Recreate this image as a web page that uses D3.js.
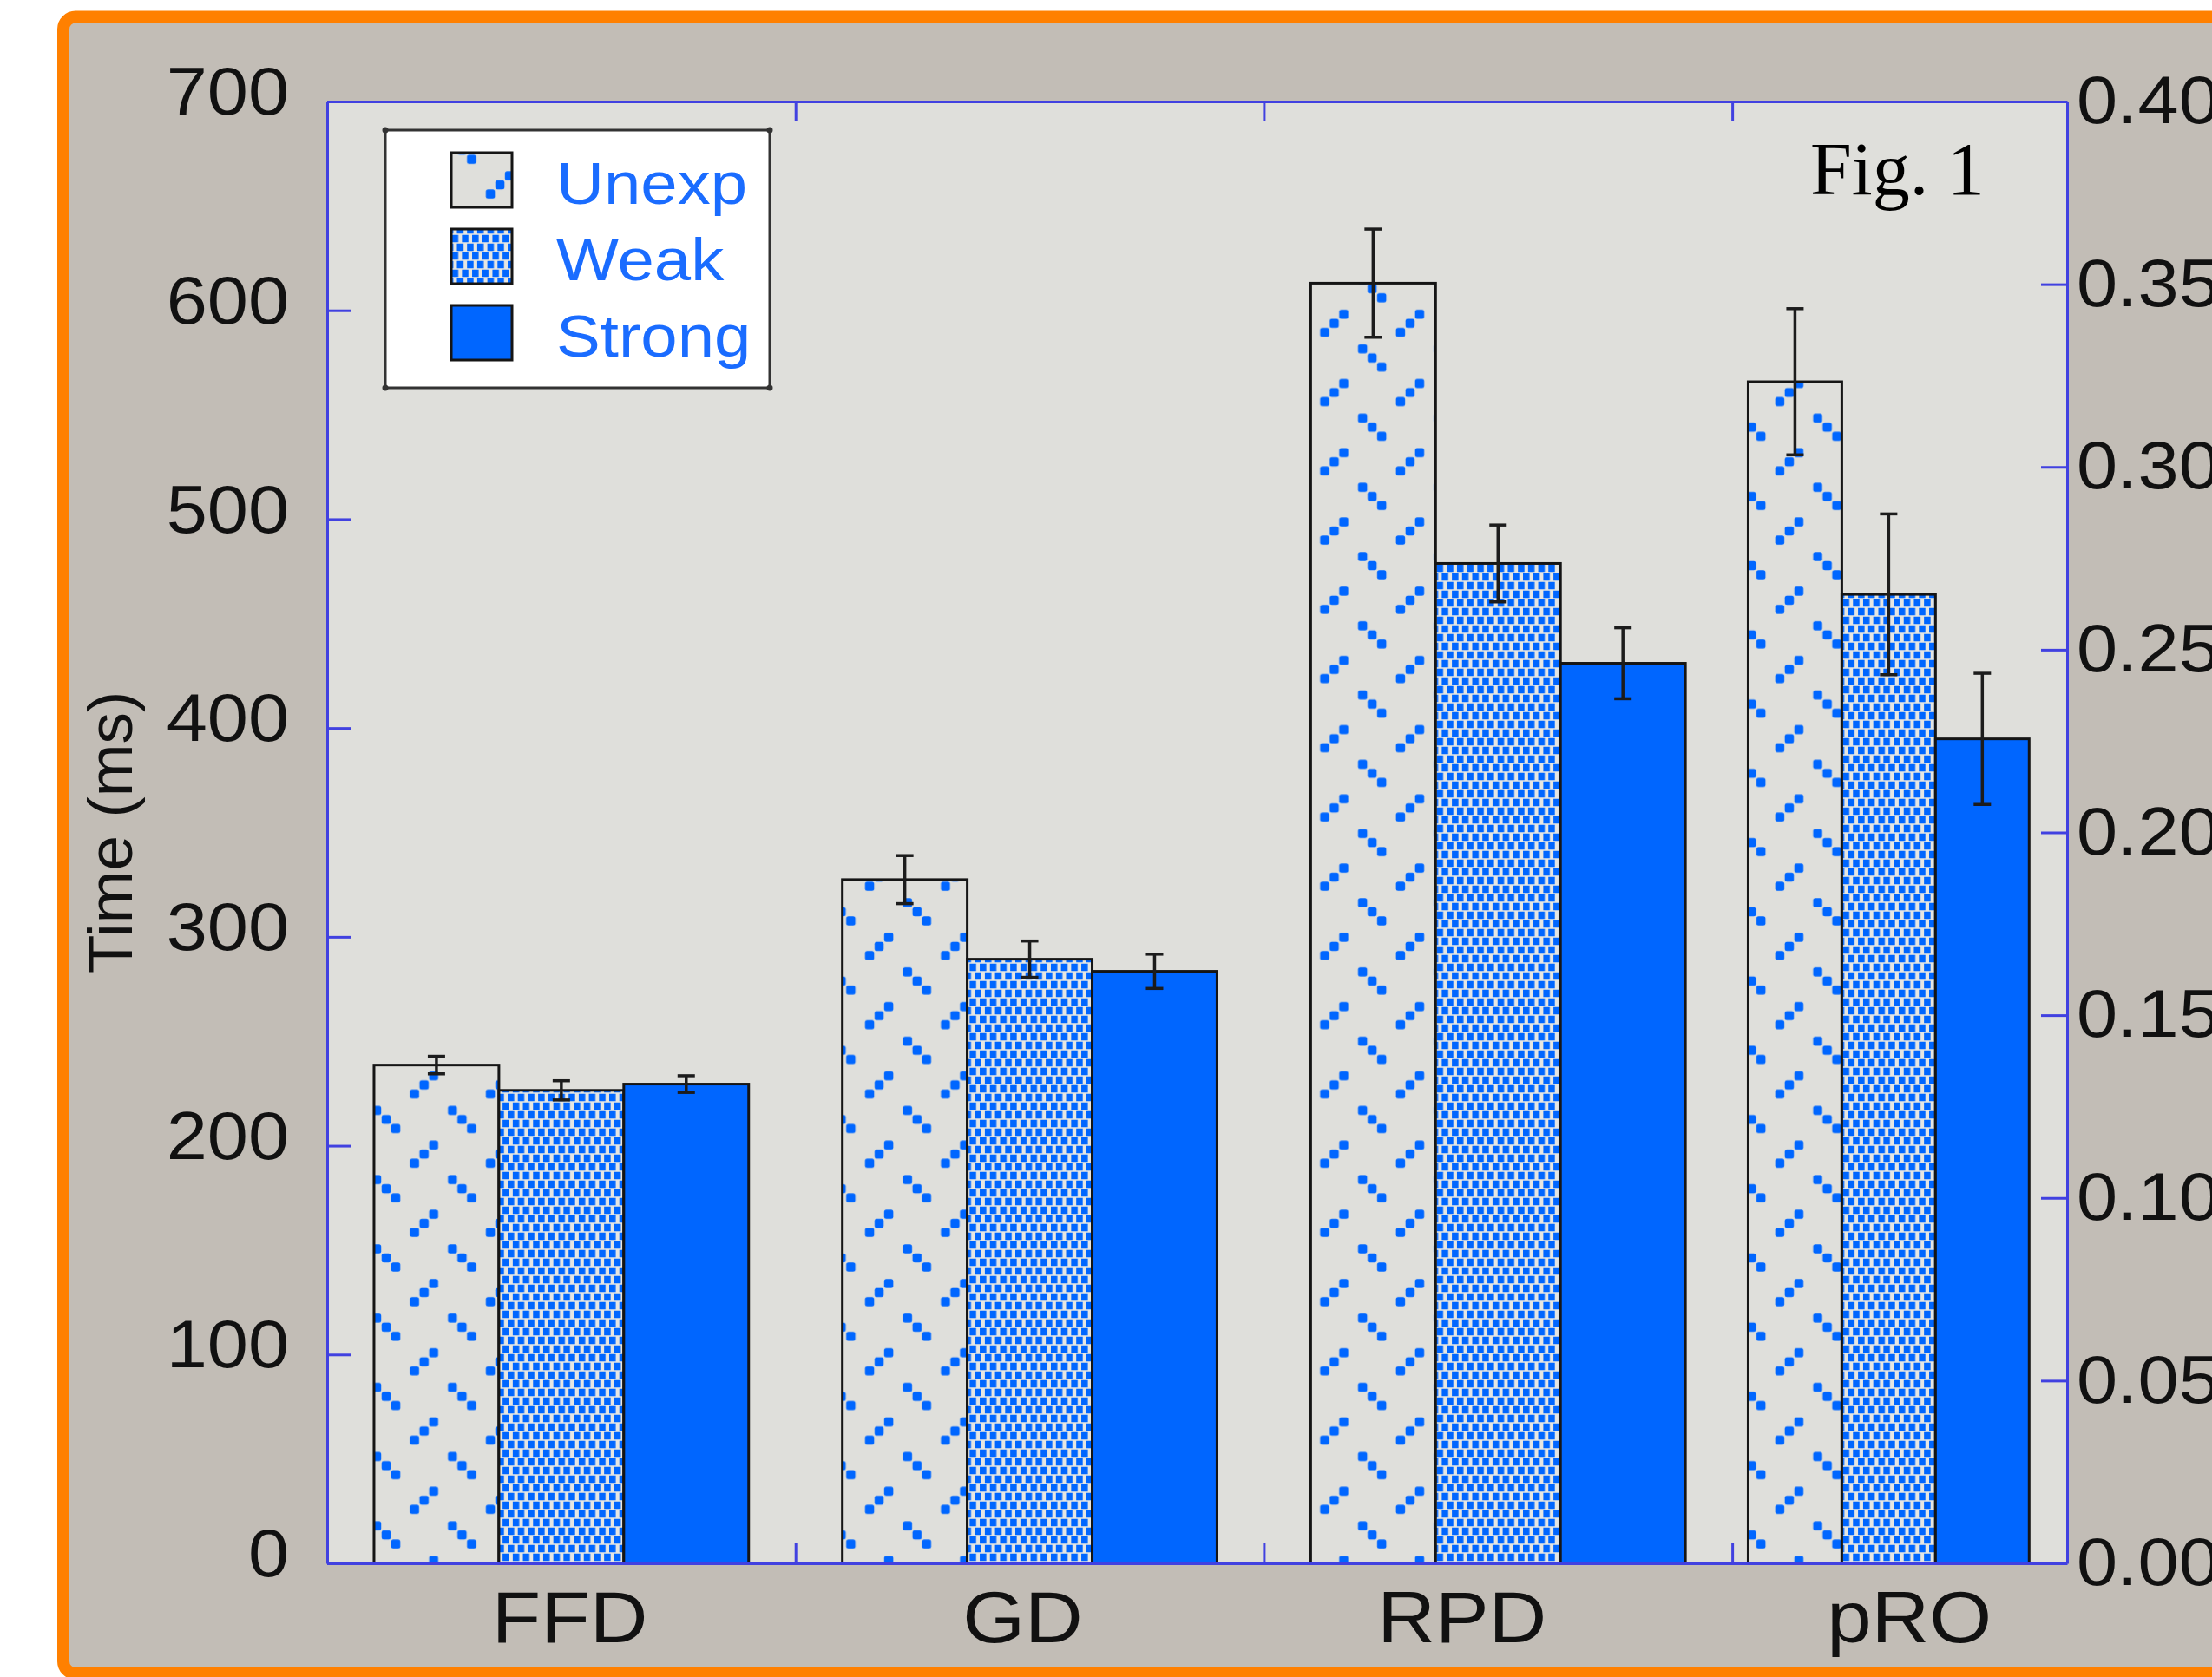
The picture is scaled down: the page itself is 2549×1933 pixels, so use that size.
<!DOCTYPE html>
<html>
<head>
<meta charset="utf-8">
<script src="https://cdn.jsdelivr.net/npm/d3@7"></script>
<style>
  body { margin: 0; background: #ffffff; }
  svg { display: block; }
</style>
</head>
<body>
<div id="chart"></div>
<script>
// data (Time in ms, mean and error)
const categories = ["FFD", "GD", "RPD", "pRO"];
const seriesNames = ["Unexp", "Weak", "Strong"];
const unexpMean = [238.6, 327.4, 613.0, 565.8];
const unexpErr = [4.2, 11.5, 25.9, 35.0];
const weakMean = [226.5, 289.3, 478.8, 464.0];
const weakErr = [4.6, 8.7, 18.4, 38.5];
const strongMean = [229.5, 283.5, 431.0, 394.8];
const strongErr = [4.0, 8.2, 17.0, 31.4];
const leftTicks = [0, 100, 200, 300, 400, 500, 600, 700];
const rightTicks = [0, 0.05, 0.10, 0.15, 0.20, 0.25, 0.30, 0.35, 0.40];
const groupBounds = [1.5, 2.5, 3.5];

// layout (x in axis units)
const groupCenter = [1, 2, 3, 3.834];
const groupWidth = [0.8, 0.8, 0.8, 0.6];
const labelPos = [1.018, 1.985, 2.923, 3.878];

const W = 2549, H = 1933;
const plot = { left: 377, right: 2382, top: 117, bottom: 1802 };
const axisBlue = "#4141e0";
const barBlue = "#0066ff";
const plotBg = "#dfdfdb";
const sx = 1.1; // text in the figure is a bit wider than the font

const svg = d3.select("#chart").append("svg")
  .attr("width", W)
  .attr("height", H);

const defs = svg.append("defs");

// Unexp pattern: "/" and "\" dotted dashes on grey
const pw = 87.4, ph = 79.8, dot = 10.5;
const pat1 = defs.append("pattern")
  .attr("id", "patUnexp")
  .attr("patternUnits", "userSpaceOnUse")
  .attr("x", 466.85).attr("y", 1230.55)
  .attr("width", pw).attr("height", ph);
pat1.append("rect").attr("width", pw).attr("height", ph).attr("fill", plotBg);
[-1, 0, 1].forEach(function (d) {
  pat1.append("rect")
    .attr("x", pw / 4 + d * 11 - dot / 2).attr("y", ph / 4 - d * 10.5 - dot / 2)
    .attr("width", dot).attr("height", dot).attr("rx", 2.5)
    .attr("fill", barBlue);
  pat1.append("rect")
    .attr("x", 3 * pw / 4 + d * 11 - dot / 2).attr("y", 3 * ph / 4 + d * 10.5 - dot / 2)
    .attr("width", dot).attr("height", dot).attr("rx", 2.5)
    .attr("fill", barBlue);
});

// Weak pattern: staggered checker
const cw = 11.7, ch = 20;
const pat2 = defs.append("pattern")
  .attr("id", "patWeak")
  .attr("patternUnits", "userSpaceOnUse")
  .attr("width", cw).attr("height", ch);
pat2.append("rect").attr("width", cw).attr("height", ch).attr("fill", "#e6e6e2");
pat2.append("rect").attr("x", 0).attr("y", 0.75).attr("width", 7.5).attr("height", 8.5).attr("fill", barBlue);
pat2.append("rect").attr("x", cw / 2).attr("y", 10.75).attr("width", 7.5).attr("height", 8.5).attr("fill", barBlue);
pat2.append("rect").attr("x", -cw / 2).attr("y", 10.75).attr("width", 7.5).attr("height", 8.5).attr("fill", barBlue);

const fills = ["url(#patUnexp)", "url(#patWeak)", barBlue];

// page frame
svg.append("rect")
  .attr("x", 73).attr("y", 19.5)
  .attr("width", 2600).attr("height", 1909.5)
  .attr("rx", 14)
  .attr("fill", "#c2bdb6")
  .attr("stroke", "#ff8000")
  .attr("stroke-width", 14);

// scales
const x = d3.scaleLinear().domain([0.5, 4.215]).range([plot.left, plot.right]);
const y = d3.scaleLinear().domain([0, 700]).range([plot.bottom, plot.top]);
const y2 = d3.scaleLinear().domain([0, 0.40]).range([plot.bottom, plot.top]);

svg.append("rect")
  .attr("x", plot.left).attr("y", plot.top)
  .attr("width", plot.right - plot.left).attr("height", plot.bottom - plot.top)
  .attr("fill", plotBg);

// bars
const means = [unexpMean, weakMean, strongMean];
const errs = [unexpErr, weakErr, strongErr];
const bars = [];
categories.forEach(function (c, i) {
  seriesNames.forEach(function (s, j) {
    const x0 = groupCenter[i] - groupWidth[i] / 2 + j * groupWidth[i] / 3;
    bars.push({ cat: c, s: j, x0: x0, x1: x0 + groupWidth[i] / 3, v: means[j][i], e: errs[j][i] });
  });
});

svg.append("g").selectAll("rect")
  .data(bars)
  .enter().append("rect")
  .attr("x", function (d) { return x(d.x0); })
  .attr("y", function (d) { return y(d.v); })
  .attr("width", function (d) { return x(d.x1) - x(d.x0); })
  .attr("height", function (d) { return y(0) - y(d.v); })
  .attr("fill", function (d) { return fills[d.s]; })
  .attr("stroke", "#151515")
  .attr("stroke-width", 3);

// error bars
const eb = svg.append("g").attr("stroke", "#1c1c1c").attr("stroke-width", 3.5);
bars.forEach(function (d) {
  const cx = x((d.x0 + d.x1) / 2);
  eb.append("line").attr("x1", cx).attr("x2", cx).attr("y1", y(d.v + d.e)).attr("y2", y(d.v - d.e));
  eb.append("line").attr("x1", cx - 10).attr("x2", cx + 10).attr("y1", y(d.v + d.e)).attr("y2", y(d.v + d.e));
  eb.append("line").attr("x1", cx - 10).attr("x2", cx + 10).attr("y1", y(d.v - d.e)).attr("y2", y(d.v - d.e));
});

// axes
const font = "'Liberation Sans', Arial, sans-serif";

function styleAxis(g) {
  g.select(".domain").attr("stroke", axisBlue).attr("stroke-width", 3);
  g.selectAll(".tick line").attr("stroke", axisBlue).attr("stroke-width", 3);
  g.selectAll(".tick text")
    .attr("fill", "#111")
    .attr("transform", "scale(" + sx + ",1)")
    .style("font-family", font)
    .style("font-size", "77px");
}

svg.append("g")
  .attr("transform", "translate(" + plot.left + ",0)")
  .call(d3.axisLeft(y).tickValues(leftTicks).tickSizeInner(-27).tickSizeOuter(0).tickPadding(44 / sx))
  .call(styleAxis)
  .call(function (g) { g.selectAll(".tick text").attr("dy", "0.19em"); });

svg.append("g")
  .attr("transform", "translate(" + plot.right + ",0)")
  .call(d3.axisRight(y2).tickValues(rightTicks).tickFormat(d3.format(".2f")).tickSizeInner(-30).tickSizeOuter(0).tickPadding(11 / sx))
  .call(styleAxis);

svg.append("g")
  .attr("transform", "translate(0," + plot.top + ")")
  .call(d3.axisTop(x).tickValues(groupBounds).tickFormat("").tickSizeInner(-23).tickSizeOuter(0))
  .call(styleAxis);

svg.append("g")
  .attr("transform", "translate(0," + plot.bottom + ")")
  .call(d3.axisBottom(x).tickValues(groupBounds).tickFormat("").tickSizeInner(-23).tickSizeOuter(0))
  .call(styleAxis);

// category labels
svg.append("g").selectAll("text")
  .data(categories)
  .enter().append("text")
  .attr("transform", function (d, i) { return "translate(" + x(labelPos[i]) + ",1893) scale(" + sx + ",1)"; })
  .attr("text-anchor", "middle")
  .attr("fill", "#111")
  .style("font-family", font)
  .style("font-size", "84px")
  .text(function (d) { return d; });

// y title
svg.append("text")
  .attr("transform", "translate(152," + ((plot.top + plot.bottom) / 2) + ") rotate(-90)")
  .attr("text-anchor", "middle")
  .attr("fill", "#111")
  .style("font-family", font)
  .style("font-size", "73px")
  .text("Time (ms)");

// legend
const lg = svg.append("g");
lg.append("rect")
  .attr("x", 444).attr("y", 150)
  .attr("width", 443).attr("height", 297)
  .attr("fill", "#ffffff")
  .attr("stroke", "#333")
  .attr("stroke-width", 3);
[[444, 150], [887, 150], [444, 447], [887, 447]].forEach(function (p) {
  lg.append("circle").attr("cx", p[0]).attr("cy", p[1]).attr("r", 3.5).attr("fill", "#333");
});
seriesNames.forEach(function (s, j) {
  const sy = 176 + j * 88;
  lg.append("rect")
    .attr("x", 520).attr("y", sy)
    .attr("width", 70).attr("height", 63)
    .attr("fill", fills[j])
    .attr("stroke", "#151515")
    .attr("stroke-width", 3);
  lg.append("text")
    .attr("transform", "translate(641," + (sy + 59) + ") scale(1.12,1)")
    .attr("fill", "#1a6cff")
    .style("font-family", font)
    .style("font-size", "68px")
    .text(s);
});

// figure tag
svg.append("text")
  .attr("x", 2086).attr("y", 224)
  .attr("fill", "#000")
  .style("font-family", "'Liberation Serif', 'Times New Roman', serif")
  .style("font-size", "86px")
  .text("Fig. 1");
</script>
</body>
</html>
